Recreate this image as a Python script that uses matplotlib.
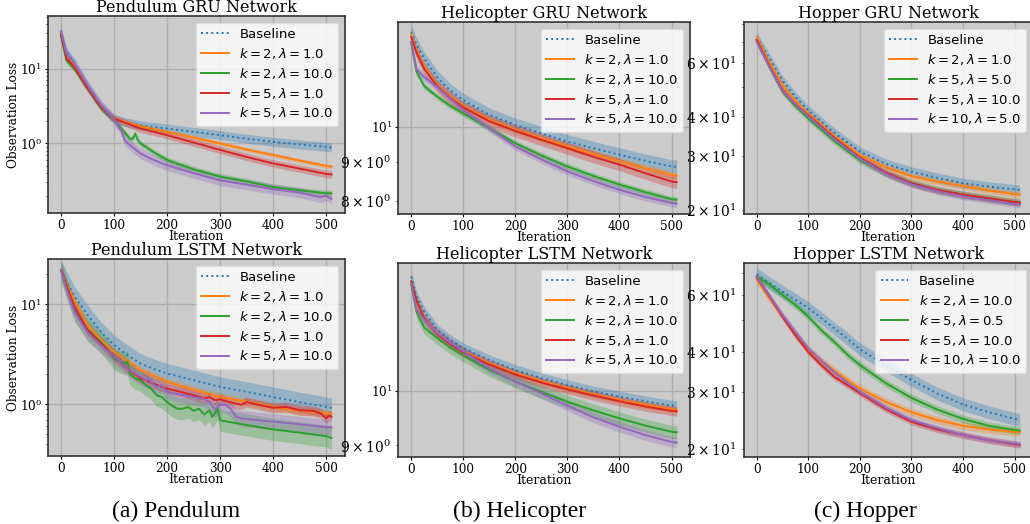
import matplotlib
matplotlib.use("Agg")
import matplotlib.pyplot as plt
from matplotlib.font_manager import FontProperties
from matplotlib.ticker import FixedLocator
import numpy as np

plt.rcParams["font.family"] = "DejaVu Serif"
plt.rcParams["mathtext.fontset"] = "dejavuserif"

colors = ["#1f77b4", "#ff7f0e", "#2ca02c", "#d62728", "#9467bd"]

# ---- Pendulum GRU ----
pg_labels = ["Baseline", r"$k=2, \lambda=1.0$", r"$k=2, \lambda=10.0$",
             r"$k=5, \lambda=1.0$", r"$k=5, \lambda=10.0$"]
pg_x = [0, 10, 25, 50, 75, 90, 100, 125, 150, 200, 250, 300, 350, 400, 450, 500, 510]
pg_base = [30, 17, 11.7, 5.9, 3.2, 2.5, 2.15, 1.9, 1.75, 1.58, 1.43, 1.29, 1.16, 1.05, 0.97, 0.90, 0.88]
pg_k2l1 = [30, 15, 11.0, 5.6, 3.1, 2.45, 2.15, 1.9, 1.7, 1.43, 1.2, 1.0, 0.83, 0.70, 0.59, 0.50, 0.49]
pg_k5l1 = [29, 14, 10.5, 5.5, 3.1, 2.45, 2.15, 1.85, 1.58, 1.29, 1.03, 0.82, 0.66, 0.54, 0.46, 0.39, 0.385]
pg_x_k2l10 = [0, 10, 25, 50, 75, 90, 100, 110, 120, 130, 135, 140, 145, 150, 160, 175, 200,
              250, 300, 350, 400, 450, 500, 510]
pg_k2l10 = [28, 13, 10, 5.4, 3.0, 2.4, 2.1, 1.7, 1.4, 1.15, 1.15, 1.35, 1.1, 1.0, 0.9, 0.76, 0.60,
            0.45, 0.36, 0.31, 0.26, 0.235, 0.215, 0.215]
pg_x_k5l10 = [0, 10, 25, 50, 75, 90, 100, 110, 115, 120, 130, 150, 175, 200, 250, 300,
              350, 400, 450, 490, 500, 510]
pg_k5l10 = [32, 16, 12, 6.0, 3.3, 2.5, 2.1, 1.6, 1.45, 1.1, 0.95, 0.73, 0.6, 0.51, 0.4,
            0.32, 0.28, 0.245, 0.22, 0.19, 0.2, 0.18]
pg_spread = [0.06, 0.03, 0.04, 0.05, 0.07]

# ---- Pendulum LSTM ----
pl_x = [0, 10, 25, 50, 75, 100, 125, 150, 175, 200, 250, 300, 350, 400, 450, 500, 510]
pl_base = [21.9, 17, 12, 7.8, 5.3, 3.9, 3.1, 2.55, 2.25, 2.03, 1.74, 1.49, 1.33, 1.18, 1.05, 0.94, 0.92]
pl_k2l1 = [21.9, 16, 11, 6.2, 4.4, 3.34, 2.7, 2.19, 1.9, 1.67, 1.39, 1.18, 1.06, 0.94, 0.86, 0.81, 0.80]
pl_x_k2l10 = [0, 10, 25, 50, 75, 100, 110, 120, 125, 130, 140, 150, 160, 170, 180, 190, 200, 210,
              220, 230, 240, 250, 260, 270, 280, 285, 290, 295, 300, 350, 400, 450, 500, 510]
pl_k2l10 = [21.9, 14.7, 8.7, 5.5, 4.2, 2.86, 2.65, 2.55, 2.65, 2.0, 1.81, 1.74, 1.55, 1.43, 1.23,
            1.18, 1.05, 0.96, 0.9, 0.9, 0.94, 0.86, 0.9, 0.79, 0.87, 0.75, 0.81, 0.9, 0.69, 0.62,
            0.56, 0.52, 0.48, 0.46]
pl_x_k5l1 = [0, 10, 25, 50, 75, 100, 125, 150, 160, 175, 200, 225, 250, 270, 280, 290, 300, 320,
             340, 350, 375, 400, 425, 450, 475, 490, 500, 505, 510]
pl_k5l1 = [21.9, 15.5, 9.4, 5.5, 4.05, 2.97, 2.27, 1.81, 1.74, 1.6, 1.43, 1.33, 1.23, 1.14, 1.18,
           1.1, 1.12, 1.04, 0.99, 1.05, 0.98, 0.92, 0.94, 0.87, 0.86, 0.81, 0.72, 0.77, 0.75]
pl_x_k5l10 = [0, 10, 25, 50, 75, 100, 125, 150, 160, 165, 170, 180, 190, 200, 225, 250, 270, 280,
              290, 300, 310, 320, 330, 340, 350, 400, 450, 500, 510]
pl_k5l10 = [21.9, 14.3, 8.4, 5.2, 3.9, 2.97, 2.27, 1.88, 1.74, 1.81, 1.67, 1.49, 1.55, 1.33, 1.25,
            1.18, 1.12, 1.05, 0.89, 0.99, 0.98, 0.9, 0.75, 0.72, 0.71, 0.67, 0.63, 0.59, 0.59]
pl_spread = [0.1, 0.04, 0.11, 0.05, 0.08]

# ---- Helicopter GRU ----
hg_labels = pg_labels
hg_x = [0, 10, 25, 50, 75, 100, 150, 200, 250, 300, 350, 400, 450, 500, 510]
hg_base = [13.3, 12.8, 12.27, 11.6, 11.15, 10.84, 10.37, 10.06, 9.81, 9.57, 9.38, 9.2, 9.03, 8.88, 8.87]
hg_k2l1 = [13.2, 12.6, 11.98, 11.34, 10.95, 10.63, 10.21, 9.91, 9.66, 9.43, 9.22, 9.02, 8.83, 8.66, 8.64]
hg_k2l10 = [12.9, 11.8, 11.3, 10.95, 10.65, 10.41, 9.96, 9.52, 9.18, 8.88, 8.63, 8.41, 8.22, 8.05, 8.04]
hg_k5l1 = [13.1, 12.5, 11.9, 11.3, 10.9, 10.6, 10.17, 9.88, 9.62, 9.38, 9.14, 8.93, 8.70, 8.49, 8.47]
hg_k5l10 = [12.9, 11.9, 11.6, 11.28, 10.88, 10.52, 9.96, 9.43, 9.07, 8.75, 8.5, 8.28, 8.1, 7.96, 7.94]
hg_spread = [0.009, 0.005, 0.004, 0.008, 0.005]

# ---- Helicopter LSTM ----
hl_x = hg_x
hl_base = [12.47, 12.0, 11.65, 11.25, 11.03, 10.86, 10.61, 10.41, 10.25, 10.11, 9.99, 9.89, 9.80, 9.72, 9.71]
hl_k2l1 = [12.35, 11.9, 11.5, 11.18, 10.96, 10.79, 10.54, 10.34, 10.18, 10.05, 9.93, 9.82, 9.73, 9.65, 9.64]
hl_k2l10 = [12.3, 11.65, 11.3, 11.07, 10.87, 10.71, 10.41, 10.18, 9.98, 9.79, 9.63, 9.48, 9.35, 9.24, 9.23]
hl_k5l1 = [12.35, 11.9, 11.5, 11.16, 10.94, 10.77, 10.52, 10.32, 10.16, 10.03, 9.91, 9.80, 9.70, 9.62, 9.61]
hl_k5l10 = [12.3, 11.7, 11.47, 11.18, 10.97, 10.79, 10.44, 10.18, 9.95, 9.72, 9.5, 9.33, 9.18, 9.06, 9.05]
hl_spread = [0.0045, 0.003, 0.0055, 0.004, 0.0045]

# ---- Hopper GRU ----
og_labels = ["Baseline", r"$k=2, \lambda=1.0$", r"$k=5, \lambda=5.0$",
             r"$k=5, \lambda=10.0$", r"$k=10, \lambda=5.0$"]
og_x = [0, 25, 50, 75, 100, 150, 200, 250, 300, 350, 400, 450, 500, 510]
og_base = [72.6, 61.8, 52.5, 46.5, 42.0, 35.6, 30.9, 28.2, 26.6, 25.4, 24.4, 23.8, 23.3, 23.2]
og_k2l1 = [72.6, 60, 50.7, 45, 41.0, 34.7, 30.1, 27.5, 25.7, 24.7, 23.9, 23.1, 22.5, 22.4]
og_k5l5 = [71, 58, 48.4, 43.5, 39.6, 33.5, 29.0, 26.3, 24.4, 23.2, 22.4, 21.8, 21.2, 21.2]
og_k5l10 = [71, 58.5, 48.9, 44, 40.5, 34.3, 29.5, 26.4, 24.4, 23.2, 22.4, 21.8, 21.2, 21.1]
og_k10l5 = [70, 58, 48.7, 44, 40.2, 34.0, 29.3, 26.2, 24.2, 23.0, 22.1, 21.5, 20.9, 20.8]
og_spread = [0.016, 0.011, 0.012, 0.011, 0.011]

# ---- Hopper LSTM ----
ol_labels = ["Baseline", r"$k=2, \lambda=10.0$", r"$k=5, \lambda=0.5$",
             r"$k=5, \lambda=10.0$", r"$k=10, \lambda=10.0$"]
ol_x = [0, 25, 50, 75, 100, 125, 150, 175, 200, 250, 300, 350, 400, 450, 500, 510]
ol_base = [69.5, 65.2, 61.4, 58, 54.6, 50.9, 47.3, 44, 40.7, 36.4, 32.7, 29.7, 27.5, 26.0, 24.8, 24.6]
ol_k2l10 = [67, 58.6, 51.5, 45.5, 40.5, 37.5, 35, 32.8, 30.8, 28.0, 26.0, 24.6, 23.6, 23.0, 22.6, 22.6]
ol_k5l05 = [68.5, 64.4, 60, 55.8, 51.4, 46.7, 43.0, 39.3, 36.4, 32.0, 28.8, 26.5, 24.8, 23.6, 22.9, 22.8]
ol_k5l10 = [68, 59.3, 51.4, 45.0, 40.0, 36.4, 33.5, 31.6, 29.8, 26.6, 24.3, 23.0, 22.1, 21.3, 20.7, 20.6]
ol_k10l10 = [68.5, 59.5, 52, 46.1, 41.0, 37.6, 34.6, 32.2, 30.1, 26.9, 24.6, 23.2, 22.1, 21.3, 20.8, 20.7]
ol_spread = [0.02, 0.012, 0.012, 0.01, 0.01]

panels = [
    ("Pendulum GRU Network", pg_labels,
     [(pg_x, pg_base), (pg_x, pg_k2l1), (pg_x_k2l10, pg_k2l10), (pg_x, pg_k5l1), (pg_x_k5l10, pg_k5l10)],
     pg_spread, (0.117, 51), (47.5, 345, 16, 213), True),
    ("Pendulum LSTM Network", pg_labels,
     [(pl_x, pl_base), (pl_x, pl_k2l1), (pl_x_k2l10, pl_k2l10), (pl_x_k5l1, pl_k5l1), (pl_x_k5l10, pl_k5l10)],
     pl_spread, (0.304, 28.2), (47.5, 345, 259, 456), True),
    ("Helicopter GRU Network", hg_labels,
     [(hg_x, hg_base), (hg_x, hg_k2l1), (hg_x, hg_k2l10), (hg_x, hg_k5l1), (hg_x, hg_k5l10)],
     hg_spread, (7.70, 13.7), (398, 690, 22, 214), False),
    ("Helicopter LSTM Network", hg_labels,
     [(hl_x, hl_base), (hl_x, hl_k2l1), (hl_x, hl_k2l10), (hl_x, hl_k5l1), (hl_x, hl_k5l10)],
     hl_spread, (8.8, 12.8), (398, 690, 263, 457), False),
    ("Hopper GRU Network", og_labels,
     [(og_x, og_base), (og_x, og_k2l1), (og_x, og_k5l5), (og_x, og_k5l10), (og_x, og_k10l5)],
     og_spread, (19.4, 81.2), (743.5, 1033, 22, 214), False),
    ("Hopper LSTM Network", ol_labels,
     [(ol_x, ol_base), (ol_x, ol_k2l10), (ol_x, ol_k5l05), (ol_x, ol_k5l10), (ol_x, ol_k10l10)],
     ol_spread, (18.9, 75.3), (743.5, 1033, 263, 457), False),
]

# plain log minor ticks (2..9 x 10^n), no fallback to linear ticks
minor_ticks = [m * 10.0 ** e for e in range(-2, 3) for m in range(2, 10)]

W, H = 1030, 524
fig = plt.figure(figsize=(W / 100, H / 100), dpi=100)
legend_font = FontProperties(family="DejaVu Sans", math_fontfamily="dejavusans", size=9.5)

for title, labels, series, spread, ylim, box, show_ylabel in panels:
    left, right, top, bottom = box
    ax = fig.add_axes([left / W, 1 - bottom / H, (right - left) / W, (bottom - top) / H])
    ax.set_facecolor("#cbcbcb")
    for i, (xs, ys) in enumerate(series):
        xs = np.array(xs)
        ys = np.array(ys)
        ls = ":" if i == 0 else "-"
        ax.plot(xs, ys, ls, color=colors[i], lw=1.4, label=labels[i], zorder=3)
        f = 10 ** spread[i]
        ax.fill_between(xs, ys / f, ys * f, color=colors[i], alpha=0.3, lw=0, zorder=2)
    ax.set_yscale("log")
    ax.yaxis.set_minor_locator(FixedLocator(minor_ticks))
    ax.set_ylim(*ylim)
    ax.set_xlim(-25.5, 535.5)
    ax.set_xticks([0, 100, 200, 300, 400, 500])
    ax.grid(True, color="#aeaeae", lw=1.0, zorder=1)
    ax.set_axisbelow(True)
    ax.tick_params(labelsize=8.7, pad=1.5, length=2.5)
    ax.tick_params(which="minor", length=1.5)
    for sp in ax.spines.values():
        sp.set_color("#333333")
        sp.set_linewidth(1.2)
    ax.set_title(title, fontsize=11.5, pad=1.5)
    ax.set_xlabel("Iteration", fontsize=9, labelpad=-1)
    if show_ylabel:
        ax.set_ylabel("Observation Loss", fontsize=8.7)
        ax.yaxis.set_label_coords(-0.092, 0.5)
    ax.legend(loc="upper right", prop=legend_font, framealpha=0.8, facecolor="white",
              edgecolor="#dddddd", handlelength=2.1, labelspacing=0.37)

caption_font = dict(family="Liberation Serif", fontsize=17, ha="center", va="center")
fig.text(176 / W, 1 - 511 / H, "(a) Pendulum", **caption_font)
fig.text(520 / W, 1 - 511 / H, "(b) Helicopter", **caption_font)
fig.text(865 / W, 1 - 511 / H, "(c) Hopper", **caption_font)

fig.savefig("out.png", dpi=100)
